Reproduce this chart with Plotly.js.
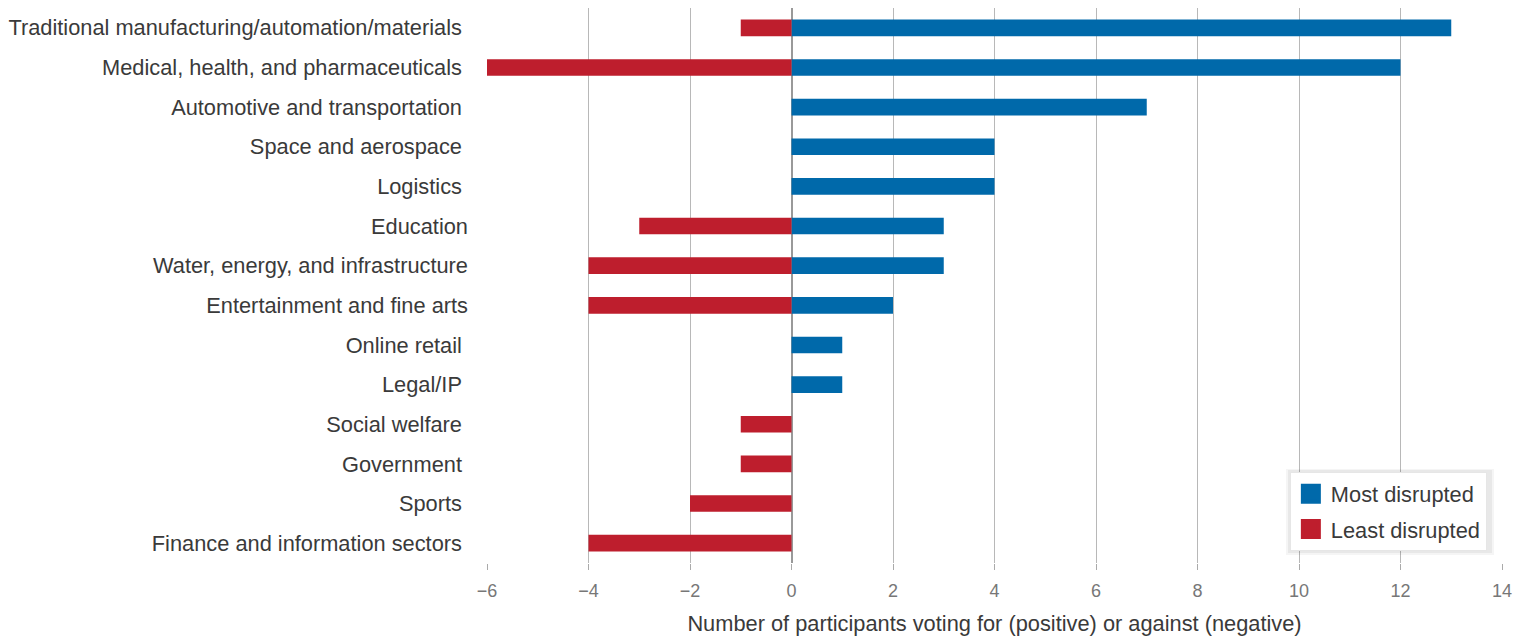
<!DOCTYPE html>
<html><head><meta charset="utf-8">
<script src="https://cdn.plot.ly/plotly-3.0.1.min.js"></script>
<style>html,body{margin:0;padding:0;background:#fff}#c{width:1518px;height:636px}</style>
</head><body><div id="c"></div>
<script>
const categories = [
  "Traditional manufacturing/automation/materials\u00a0",
  "Medical, health, and pharmaceuticals\u00a0",
  "Automotive and transportation\u00a0",
  "Space and aerospace\u00a0",
  "Logistics\u00a0",
  "Education",
  "Water, energy, and infrastructure",
  "Entertainment and fine arts",
  "Online retail\u00a0",
  "Legal/IP\u00a0",
  "Social welfare\u00a0",
  "Government\u00a0",
  "Sports\u00a0",
  "Finance and information sectors\u00a0"
];
const mostDisrupted = [13, 12, 7, 4, 4, 3, 3, 2, 1, 1, 0, 0, 0, 0];
const leastDisrupted = [-1, -6, 0, 0, 0, -3, -4, -4, 0, 0, -1, -1, -2, -4];
const xTicks = [-6, -4, -2, 0, 2, 4, 6, 8, 10, 12, 14];

const BLUE = '#0069aa', RED = '#be1e2d';
const font = {family: '"Liberation Sans", Arial, sans-serif', color: '#3a3a3a'};

const traces = [
  {type: 'bar', orientation: 'h', y: categories, x: mostDisrupted, name: 'Most disrupted',
   marker: {color: BLUE}, width: 0.42, showlegend: false, hoverinfo: 'x+y'},
  {type: 'bar', orientation: 'h', y: categories, x: leastDisrupted, name: 'Least disrupted',
   marker: {color: RED}, width: 0.42, showlegend: false, hoverinfo: 'x+y'},
  {type: 'scatter', mode: 'markers', x: [null], y: [null], name: 'Most disrupted', legendgroup: 'a',
   marker: {symbol: 'square', size: 16, color: BLUE, line: {color: BLUE, width: 4}}},
  {type: 'scatter', mode: 'markers', x: [null], y: [null], name: 'Least disrupted', legendgroup: 'b',
   marker: {symbol: 'square', size: 16, color: RED, line: {color: RED, width: 4}}}
];

// legend shadow (pixel box converted to plot-domain paper coords)
const px = v => (v - 487) / 1015, py = v => (563 - v) / 555;
const shadow = (x0, y0, x1, y1, a) => ({type: 'rect', xref: 'paper', yref: 'paper', layer: 'above',
  x0: px(x0), x1: px(x1), y0: py(y1), y1: py(y0), line: {width: 0}, fillcolor: 'rgba(0,0,0,' + a + ')'});

const layout = {
  width: 1518, height: 636,
  margin: {l: 487, r: 16, t: 8, b: 73},
  paper_bgcolor: '#fff', plot_bgcolor: '#fff',
  barmode: 'relative',
  font: Object.assign({size: 21.8}, font),
  xaxis: {
    range: [-6, 14], tickvals: xTicks, showgrid: true, gridcolor: '#b8b8b8', gridwidth: 1,
    zeroline: true, zerolinecolor: '#999', zerolinewidth: 2,
    ticks: 'outside', ticklen: 6, tickcolor: '#aaa', ticklabelstandoff: 5,
    tickfont: {family: '"Liberation Sans Narrow", "Liberation Sans", Arial, sans-serif', size: 18, color: '#777'},
    title: {text: 'Number of participants voting for (positive) or against (negative)', standoff: 26,
            font: Object.assign({}, font, {size: 21.8})},
    fixedrange: true
  },
  yaxis: {
    autorange: 'reversed', showgrid: false, ticks: '', ticklabelstandoff: 18,
    tickfont: Object.assign({}, font, {size: 21.8}),
    showline: false, fixedrange: true
  },
  shapes: [
    shadow(1286, 469, 1494, 555, 0.04),
    shadow(1288, 470, 1492, 553, 0.05)
  ],
  legend: {
    x: 0.791, y: 0.164, xanchor: 'left', yanchor: 'top',
    bgcolor: '#fff', bordercolor: '#e6e6e6', borderwidth: 1,
    font: Object.assign({}, font, {size: 21.8}),
    tracegroupgap: 4
  },
  showlegend: true
};

Plotly.newPlot('c', traces, layout, {displayModeBar: false, responsive: false});
</script></body></html>
